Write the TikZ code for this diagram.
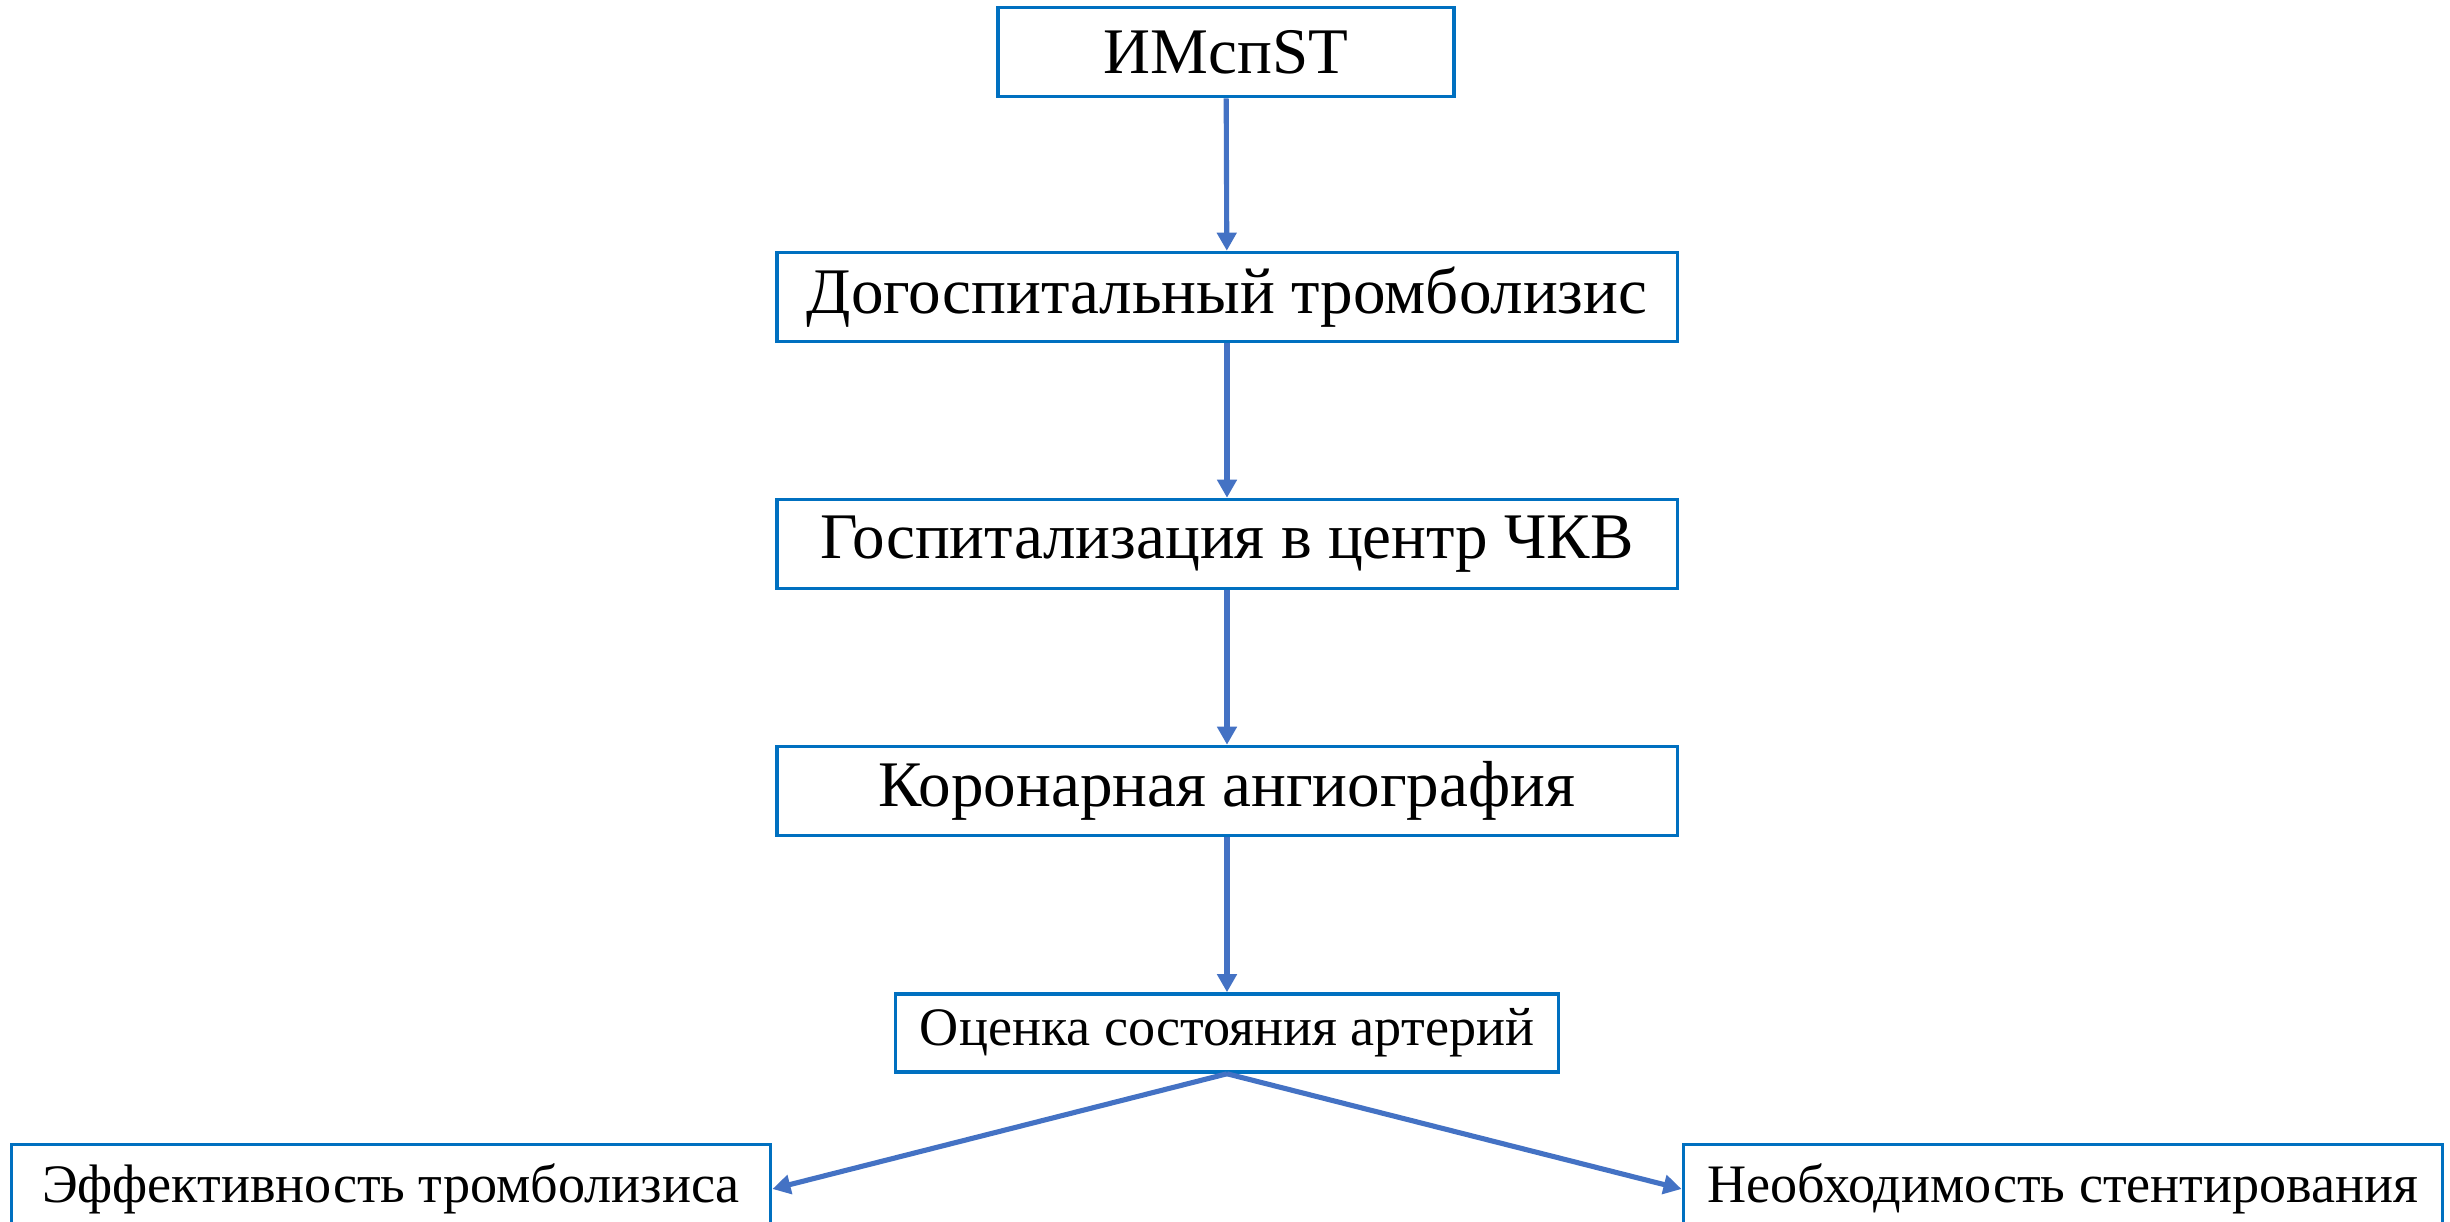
\documentclass[tikz,border=0pt]{standalone}
\usepackage{fontspec}
\setmainfont{Liberation Serif}
\usetikzlibrary{arrows.meta}
\definecolor{boxblue}{HTML}{0070C0}
\definecolor{linkblue}{HTML}{4472C4}
\begin{document}
\begin{tikzpicture}[x=0.01cm,y=-0.01cm,
  stepbox/.style={draw=boxblue,line width=1pt,fill=white,inner sep=0pt,
    minimum height=0.89cm,font=\fontsize{18.5}{22}\selectfont},
  smallbox/.style={stepbox,font=\fontsize{15.4}{18}\selectfont},
  link/.style={draw=linkblue,line width=1.45pt,
    -{Triangle[width=0.19cm,length=0.18cm]}}]
\useasboundingbox (0,0) rectangle (2450,1222);
\fill[white] (0,0) rectangle (2450,1222);
% main chain
\node[stepbox,minimum width=4.56cm] (imst) at (1226,52) {ИМспST};
\node[stepbox,minimum width=9.00cm] (prehosp) at (1227,297) {Догоспитальный тромболизис};
\node[stepbox,minimum width=9.00cm] (hosp) at (1227,544) {Госпитализация в центр ЧКВ};
\node[stepbox,minimum width=9.00cm] (angio) at (1227,791) {Коронарная ангиография};
\node[smallbox,minimum width=6.63cm,minimum height=0.78cm] (eval) at (1227,1033) {Оценка состояния артерий};
% outcomes
\node[smallbox,minimum width=7.59cm] (effect) at (391,1189) {Эффективность тромболизиса};
\node[smallbox,minimum width=7.59cm] (stent) at (2063,1189) {Необходимость стентирования};
% connectors
\draw[link] (imst) -- (prehosp);
\draw[link] (prehosp) -- (hosp);
\draw[link] (hosp) -- (angio);
\draw[link] (angio) -- (eval);
\draw[link] (eval.south) -- (effect.east);
\draw[link] (eval.south) -- (stent.west);
\end{tikzpicture}
\end{document}
